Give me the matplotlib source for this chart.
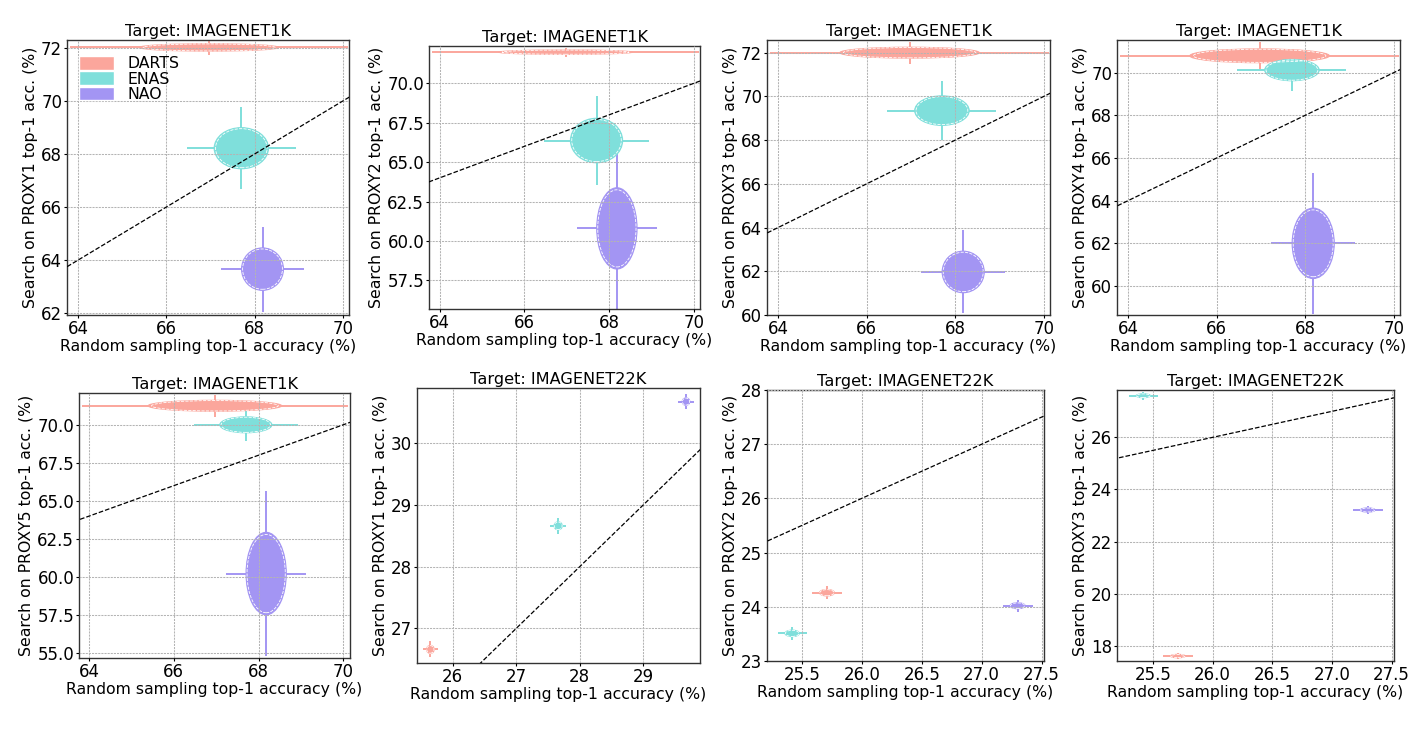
import matplotlib
matplotlib.use("Agg")
import matplotlib.pyplot as plt
from matplotlib.patches import Ellipse, Patch
from matplotlib.ticker import MultipleLocator
from matplotlib.colors import to_rgb

plt.rcParams['font.family'] = ['DejaVu Sans']
FS_LABEL = 11.3
FS_TITLE = 11.6
FS_TICK = 12.0

methods = ["DARTS", "ENAS", "NAO"]
colors = ["#FA8072", "#48D1CC", "#7B68EE"]

# ImageNet1K random sampling (x) mean / std
rs1k_x = [66.97, 67.70, 68.18]
rs1k_sx = [3.15, 1.23, 0.95]

# ImageNet1K proxy search results (y) mean / std
p1_1k_y = [72.02, 68.22, 63.66]
p1_1k_sy = [0.28, 1.55, 1.60]
p2_1k_y = [71.97, 66.37, 60.80]
p2_1k_sy = [0.28, 2.82, 5.15]
p3_1k_y = [72.00, 69.35, 61.97]
p3_1k_sy = [0.50, 1.35, 1.90]
p4_1k_y = [70.79, 70.12, 62.00]
p4_1k_sy = [0.65, 1.00, 3.30]
p5_1k_y = [71.25, 70.00, 60.22]
p5_1k_sy = [0.72, 1.05, 5.42]

# ImageNet22K
p1_22k_x = [25.65, 27.66, 29.67]
p1_22k_sx = [0.12, 0.13, 0.12]
p1_22k_y = [26.66, 28.66, 30.67]
p1_22k_sy = [0.13, 0.13, 0.12]

rs22k_x = [25.71, 25.42, 27.30]
rs22k_sx = [0.125, 0.12, 0.125]
p2_22k_y = [24.26, 23.51, 24.02]
p2_22k_sy = [0.12, 0.12, 0.11]
p3_22k_y = [17.60, 27.60, 23.21]
p3_22k_sy = [0.13, 0.15, 0.16]

panels = [
    ("IMAGENET1K", "PROXY1", rs1k_x, rs1k_sx, p1_1k_y, p1_1k_sy, (63.75, 70.14), (61.93, 72.30), 2, 2),
    ("IMAGENET1K", "PROXY2", rs1k_x, rs1k_sx, p2_1k_y, p2_1k_sy, (63.75, 70.14), (55.69, 72.36), 2, 2.5),
    ("IMAGENET1K", "PROXY3", rs1k_x, rs1k_sx, p3_1k_y, p3_1k_sy, (63.75, 70.14), (60.00, 72.58), 2, 2),
    ("IMAGENET1K", "PROXY4", rs1k_x, rs1k_sx, p4_1k_y, p4_1k_sy, (63.75, 70.14), (58.64, 71.53), 2, 2),
    ("IMAGENET1K", "PROXY5", rs1k_x, rs1k_sx, p5_1k_y, p5_1k_sy, (63.76, 70.16), (54.67, 72.09), 2, 2.5),
    ("IMAGENET22K", "PROXY1", p1_22k_x, p1_22k_sx, p1_22k_y, p1_22k_sy, (25.44, 29.89), (26.44, 30.89), 1, 1),
    ("IMAGENET22K", "PROXY2", rs22k_x, rs22k_sx, p2_22k_y, p2_22k_sy, (25.21, 27.52), (23.00, 28.00), 0.5, 1),
    ("IMAGENET22K", "PROXY3", rs22k_x, rs22k_sx, p3_22k_y, p3_22k_sy, (25.20, 27.52), (17.41, 27.82), 0.5, 2),
]

# axes boxes in pixels: left, right, top, bottom
boxes = [
    (67, 349, 40, 315),
    (429, 700, 46, 309),
    (767, 1050, 40, 315),
    (1117, 1400, 40, 315),
    (79, 350, 393, 658),
    (417, 700, 388, 663),
    (767, 1044, 390, 661),
    (1117, 1394, 390, 661),
]


def blend(c, a):
    r, g, b = to_rgb(c)
    return (1 - a + a * r, 1 - a + a * g, 1 - a + a * b)


W, H = 1419, 734
fig = plt.figure(figsize=(W / 100, H / 100), dpi=100)

for (target, proxy, xs, sxs, ys, sys_, xl, yl, xstep, ystep), (l, r, t, b) in zip(panels, boxes):
    ax = fig.add_axes([l / W, 1 - b / H, (r - l) / W, (b - t) / H])
    ax.set_axisbelow(False)
    ax.grid(True, color="#b4b4b4", lw=0.75, ls=(0, (2, 1)), zorder=2.5)
    for x, sx, y, sy, c in zip(xs, sxs, ys, sys_, colors):
        fc = blend(c, 0.7)
        ax.errorbar([x], [y], xerr=[sx], yerr=[sy], fmt="none", ecolor=fc,
                    elinewidth=1.4, capsize=0, zorder=1.5)
        e = Ellipse((x, y), width=sx, height=sy, facecolor=fc, edgecolor=fc,
                    lw=0.8, zorder=2)
        ax.add_patch(e)
        e2 = Ellipse((x, y), width=sx * 0.95, height=sy * 0.95, fill=False,
                     edgecolor="white", lw=0.6, ls="--", zorder=2.2)
        ax.add_patch(e2)
    lo = min(xl[0], yl[0])
    hi = max(xl[1], yl[1])
    ax.plot([lo, hi], [lo, hi], color="black", ls="--", lw=0.9, zorder=5)
    ax.set_xlim(*xl)
    ax.set_ylim(*yl)
    ax.xaxis.set_major_locator(MultipleLocator(xstep))
    ax.yaxis.set_major_locator(MultipleLocator(ystep))
    ax.set_title(f"Target: {target}", fontsize=FS_TITLE, pad=3)
    ax.set_xlabel("Random sampling top-1 accuracy (%)", fontsize=FS_LABEL, labelpad=1)
    ax.set_ylabel(f"Search on {proxy} top-1 acc. (%)", fontsize=FS_LABEL, labelpad=2)
    ax.tick_params(labelsize=FS_TICK, length=2, width=0.8, pad=1.5)
    for s in ax.spines.values():
        s.set_color("#333333")
        s.set_linewidth(1.0)
    if target == "IMAGENET1K" and proxy == "PROXY1":
        handles = [Patch(facecolor=blend(c, 0.7), edgecolor="white", lw=1.0) for c in colors]
        ax.legend(handles, methods, loc="upper left", bbox_to_anchor=(0.01, 0.975),
                  frameon=False, fontsize=FS_LABEL, handlelength=2.2, handleheight=0.95,
                  labelspacing=0.0, handletextpad=0.9, borderaxespad=0.2)

fig.savefig("out.png", dpi=100)
